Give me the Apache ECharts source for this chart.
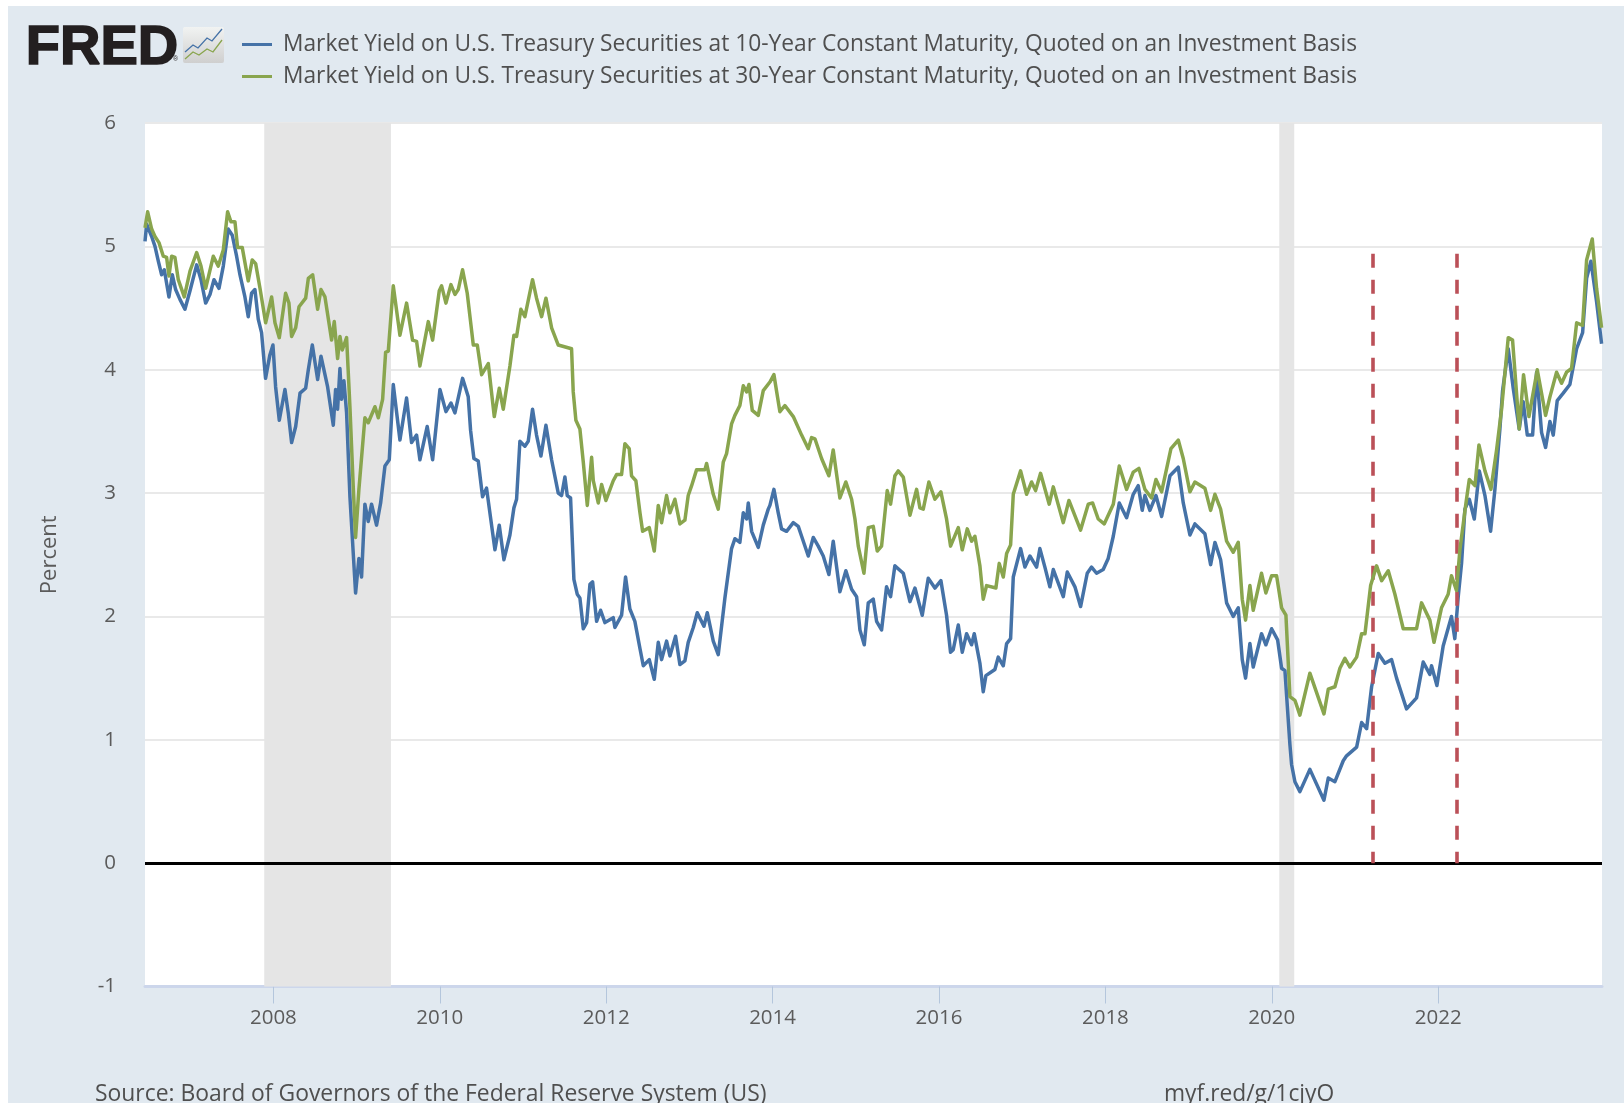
<!DOCTYPE html>
<html><head><meta charset="utf-8"><title>FRED</title>
<style>html,body{margin:0;padding:0;background:#fff;width:1624px;height:1103px;overflow:hidden}
#bg{position:absolute;left:8px;top:6px;right:0;bottom:0;background:#e1e9f0}
#c{position:absolute;left:0;top:0;width:1624px;height:1103px}</style>
<script src="https://cdn.jsdelivr.net/npm/echarts@6/dist/echarts.min.js"></script></head>
<body><div id="bg"></div><div id="c"></div><script>
const years10=[2006.457,2006.477,2006.537,2006.577,2006.617,2006.657,2006.689,2006.745,2006.785,2006.825,2006.877,2006.937,2006.998,2007.078,2007.130,2007.186,2007.238,2007.286,2007.346,2007.398,2007.458,2007.506,2007.558,2007.598,2007.658,2007.698,2007.738,2007.778,2007.818,2007.858,2007.906,2007.958,2007.995,2008.027,2008.071,2008.139,2008.179,2008.219,2008.268,2008.320,2008.388,2008.420,2008.468,2008.532,2008.572,2008.652,2008.720,2008.748,2008.772,2008.800,2008.820,2008.848,2008.880,2008.920,
2008.988,2009.028,2009.060,2009.100,2009.140,2009.180,2009.240,2009.289,2009.341,2009.393,2009.441,2009.521,2009.601,2009.661,2009.721,2009.761,2009.849,2009.914,2010.002,2010.074,2010.134,2010.182,2010.274,2010.342,2010.370,2010.410,2010.462,2010.514,2010.562,2010.663,2010.715,2010.771,2010.843,2010.891,2010.923,2010.963,2011.023,2011.063,2011.115,2011.163,2011.216,2011.276,2011.344,2011.424,
2011.464,2011.504,2011.532,2011.572,2011.612,2011.652,2011.684,2011.725,2011.765,2011.805,2011.837,2011.885,2011.933,2011.985,2012.085,2012.105,2012.185,2012.233,2012.285,2012.345,2012.406,2012.446,2012.518,2012.578,2012.626,2012.666,2012.726,2012.766,2012.834,2012.886,2012.946,2012.986,2013.047,2013.095,2013.175,2013.215,2013.287,2013.347,2013.427,2013.507,2013.547,2013.607,2013.648,2013.688,2013.708,2013.748,2013.828,2013.888,2013.948,2013.968,
2014.016,2014.068,2014.108,2014.168,2014.249,2014.309,2014.349,2014.429,2014.489,2014.549,2014.609,2014.677,2014.729,2014.809,2014.881,2014.950,2015.010,2015.050,2015.102,2015.150,2015.210,2015.250,2015.310,2015.370,2015.418,2015.470,2015.571,2015.651,2015.711,2015.799,2015.871,2015.951,2016.023,2016.091,2016.139,2016.171,2016.232,2016.280,2016.332,2016.392,2016.424,2016.492,
2016.532,2016.564,2016.672,2016.712,2016.773,2016.813,2016.861,2016.893,2016.981,2017.033,2017.093,2017.173,2017.213,2017.273,2017.333,2017.374,2017.494,2017.542,2017.634,2017.702,2017.782,2017.834,2017.894,2017.974,2018.034,2018.095,2018.167,2018.255,2018.335,2018.395,2018.443,2018.475,2018.535,2018.608,2018.676,2018.776,2018.876,2018.936,2019.016,
2019.076,2019.196,2019.265,2019.317,2019.385,2019.457,2019.537,2019.597,2019.645,2019.685,2019.737,2019.777,2019.877,2019.929,2019.998,2020.070,2020.118,2020.158,2020.218,2020.238,2020.278,2020.338,2020.458,2020.627,2020.679,2020.759,2020.859,2020.899,2021.020,2021.080,2021.140,2021.200,2021.280,
2021.360,2021.440,2021.500,2021.620,2021.740,2021.820,2021.900,2021.920,2021.985,2022.060,2022.160,2022.200,
2022.241,2022.281,2022.321,2022.374,2022.434,2022.494,2022.562,2022.630,2022.682,2022.742,2022.774,2022.842,2022.902,2022.974,2023.022,2023.071,2023.135,2023.183,2023.243,2023.291,2023.343,2023.383,2023.431,2023.503,2023.583,2023.664,2023.736,2023.784,2023.836,2023.904,2023.964];
const yields10=[5.04,5.18,5.08,5.00,4.88,4.77,4.81,4.59,4.77,4.65,4.57,4.49,4.64,4.85,4.73,4.54,4.61,4.73,4.66,4.84,5.14,5.09,4.92,4.77,4.59,4.43,4.62,4.65,4.41,4.30,3.93,4.12,4.20,3.86,3.59,3.84,3.65,3.41,3.54,3.81,3.85,4.00,4.20,3.92,4.11,3.86,3.55,3.84,3.68,4.01,3.76,3.91,3.65,2.97,
2.19,2.47,2.32,2.91,2.77,2.91,2.74,2.92,3.22,3.27,3.88,3.43,3.77,3.41,3.47,3.27,3.54,3.27,3.84,3.66,3.73,3.65,3.93,3.78,3.51,3.28,3.26,2.97,3.04,2.54,2.74,2.46,2.66,2.88,2.95,3.42,3.38,3.42,3.68,3.47,3.30,3.55,3.27,3.00,
2.98,3.13,2.98,2.96,2.30,2.18,2.15,1.90,1.95,2.26,2.28,1.96,2.05,1.95,1.99,1.91,2.01,2.32,2.06,1.96,1.74,1.60,1.65,1.49,1.79,1.65,1.80,1.68,1.84,1.61,1.64,1.79,1.91,2.03,1.92,2.03,1.80,1.69,2.15,2.55,2.63,2.60,2.84,2.79,2.92,2.69,2.56,2.74,2.87,2.90,
3.03,2.84,2.71,2.69,2.76,2.73,2.65,2.49,2.64,2.57,2.49,2.34,2.61,2.20,2.37,2.22,2.16,1.89,1.77,2.11,2.14,1.96,1.89,2.24,2.16,2.41,2.35,2.12,2.23,2.01,2.31,2.23,2.29,2.01,1.71,1.73,1.93,1.71,1.86,1.77,1.86,1.62,
1.39,1.52,1.57,1.67,1.60,1.78,1.82,2.32,2.55,2.40,2.49,2.40,2.55,2.40,2.24,2.38,2.16,2.36,2.24,2.08,2.35,2.40,2.35,2.38,2.47,2.65,2.92,2.80,2.99,3.06,2.86,2.98,2.86,2.98,2.81,3.14,3.21,2.92,2.66,
2.75,2.67,2.42,2.60,2.46,2.11,2.00,2.07,1.65,1.50,1.78,1.59,1.86,1.77,1.90,1.81,1.58,1.56,0.96,0.80,0.66,0.58,0.76,0.51,0.69,0.66,0.83,0.87,0.94,1.14,1.09,1.43,1.70,
1.62,1.65,1.50,1.25,1.34,1.63,1.53,1.60,1.44,1.76,2.00,1.82,
2.16,2.43,2.87,2.95,2.79,3.18,2.98,2.69,3.03,3.52,3.83,4.17,3.85,3.52,3.74,3.47,3.47,3.98,3.49,3.37,3.58,3.47,3.75,3.81,3.88,4.17,4.30,4.74,4.88,4.55,4.21];
const years30=[2006.457,2006.489,2006.537,2006.577,2006.625,2006.677,2006.717,2006.745,2006.777,2006.817,2006.857,2006.929,2006.998,2007.078,2007.130,2007.186,2007.278,2007.338,2007.398,2007.450,2007.490,2007.538,2007.570,2007.626,2007.698,2007.746,2007.787,2007.839,2007.907,2007.979,2008.019,2008.071,2008.147,2008.187,2008.219,2008.268,2008.308,2008.388,2008.420,2008.472,2008.532,2008.572,2008.620,2008.700,2008.732,2008.772,2008.800,2008.828,2008.880,2008.920,2008.960,
2008.988,2009.028,2009.100,2009.140,2009.221,2009.261,2009.313,2009.349,2009.381,2009.441,2009.521,2009.601,2009.673,2009.721,2009.761,2009.862,2009.914,2009.994,2010.022,2010.074,2010.134,2010.182,2010.222,2010.274,2010.330,2010.370,2010.403,2010.451,2010.503,2010.583,2010.655,2010.715,2010.763,2010.843,2010.891,2010.923,2010.975,2011.023,2011.115,2011.163,2011.224,2011.276,2011.344,2011.424,
2011.584,2011.604,2011.636,2011.684,2011.725,2011.773,2011.825,2011.845,2011.905,2011.945,2011.997,2012.085,2012.125,2012.185,2012.225,2012.277,2012.305,2012.357,2012.406,2012.438,2012.518,2012.578,2012.626,2012.666,2012.726,2012.766,2012.826,2012.886,2012.946,2012.986,2013.027,2013.087,2013.187,2013.207,2013.287,2013.347,2013.407,2013.447,2013.507,2013.547,2013.607,2013.648,2013.688,2013.716,2013.756,2013.828,2013.888,2013.968,
2014.016,2014.088,2014.148,2014.249,2014.349,2014.429,2014.469,2014.509,2014.589,2014.677,2014.729,2014.809,2014.881,2014.950,2014.990,2015.030,2015.098,2015.150,2015.210,2015.258,2015.310,2015.378,2015.418,2015.470,2015.510,2015.571,2015.651,2015.731,2015.771,2015.811,2015.879,2015.951,2016.023,2016.091,2016.139,2016.232,2016.280,2016.340,2016.392,2016.432,2016.492,
2016.532,2016.572,2016.684,2016.724,2016.773,2016.813,2016.861,2016.893,2016.981,2017.053,2017.113,2017.161,2017.221,2017.325,2017.374,2017.494,2017.562,2017.702,2017.794,2017.846,2017.914,2017.986,2018.095,2018.167,2018.255,2018.335,2018.403,2018.475,2018.555,2018.608,2018.676,2018.788,2018.876,2018.936,2019.016,
2019.076,2019.196,2019.265,2019.317,2019.385,2019.457,2019.537,2019.597,2019.645,2019.685,2019.737,2019.777,2019.877,2019.929,2019.998,2020.058,2020.118,2020.170,2020.218,2020.278,2020.338,2020.458,2020.627,2020.679,2020.759,2020.819,2020.879,2020.939,2021.020,2021.080,2021.120,2021.188,2021.260,
2021.320,2021.400,2021.480,2021.580,2021.740,2021.800,2021.900,2021.950,2022.040,2022.120,2022.160,2022.220,
2022.261,2022.334,2022.374,2022.442,2022.490,2022.562,2022.634,2022.702,2022.762,2022.842,2022.894,2022.974,2023.026,2023.091,2023.191,2023.291,2023.343,2023.423,2023.483,2023.543,2023.603,2023.664,2023.736,2023.784,2023.852,2023.904,2023.964];
const yields30=[5.15,5.28,5.14,5.08,5.03,4.92,4.91,4.76,4.92,4.91,4.73,4.59,4.80,4.95,4.84,4.66,4.92,4.84,4.97,5.28,5.20,5.20,4.99,4.99,4.72,4.89,4.86,4.66,4.38,4.59,4.38,4.26,4.62,4.54,4.27,4.34,4.51,4.58,4.74,4.77,4.49,4.65,4.59,4.24,4.39,4.09,4.27,4.16,4.26,3.70,3.05,
2.64,3.03,3.61,3.57,3.70,3.61,3.76,4.14,4.15,4.68,4.28,4.54,4.24,4.23,4.03,4.39,4.24,4.64,4.68,4.54,4.69,4.61,4.65,4.81,4.62,4.39,4.20,4.20,3.96,4.05,3.62,3.85,3.68,4.03,4.28,4.27,4.49,4.43,4.73,4.58,4.43,4.58,4.34,4.20,
4.17,3.82,3.59,3.52,3.25,2.90,3.29,3.10,2.92,3.07,2.94,3.10,3.15,3.15,3.40,3.36,3.14,3.10,2.84,2.69,2.72,2.53,2.90,2.76,2.98,2.84,2.95,2.75,2.78,2.98,3.06,3.19,3.19,3.24,2.99,2.87,3.25,3.32,3.56,3.63,3.71,3.87,3.82,3.88,3.67,3.63,3.83,3.90,
3.96,3.66,3.71,3.62,3.47,3.36,3.45,3.44,3.28,3.14,3.35,2.96,3.09,2.95,2.79,2.57,2.35,2.72,2.73,2.53,2.57,3.02,2.91,3.14,3.18,3.13,2.82,3.03,2.88,2.87,3.09,2.95,3.01,2.79,2.57,2.72,2.54,2.71,2.61,2.65,2.41,
2.14,2.25,2.23,2.43,2.32,2.51,2.58,2.99,3.18,2.99,3.09,3.02,3.16,2.91,3.05,2.76,2.94,2.70,2.91,2.92,2.79,2.75,2.91,3.22,3.03,3.17,3.20,3.03,2.96,3.11,3.01,3.36,3.43,3.28,3.01,
3.09,3.04,2.86,2.99,2.87,2.61,2.52,2.60,2.14,1.97,2.25,2.05,2.35,2.19,2.33,2.33,2.07,2.01,1.35,1.32,1.20,1.54,1.21,1.41,1.43,1.58,1.66,1.59,1.67,1.86,1.86,2.25,2.41,
2.29,2.37,2.18,1.90,1.90,2.11,1.97,1.79,2.07,2.18,2.33,2.21,
2.54,2.92,3.11,3.06,3.39,3.18,3.03,3.35,3.68,4.26,4.24,3.52,3.96,3.62,4.00,3.63,3.78,3.98,3.89,3.98,4.01,4.38,4.36,4.89,5.06,4.66,4.34];
const yearTicks=[2008,2010,2012,2014,2016,2018,2020,2022];
const recessions=[[2007.89,2009.413],[2020.09,2020.27]];
const eventDates=[2021.216,2022.218];
const eventTop=4.94;
const name10='Market Yield on U.S. Treasury Securities at 10-Year Constant Maturity, Quoted on an Investment Basis';
const name30='Market Yield on U.S. Treasury Securities at 30-Year Constant Maturity, Quoted on an Investment Basis';
const sourceText='Source: Board of Governors of the Federal Reserve System (US)';
const linkText='myf.red/g/1cjyO';
const pairs=(xs,ys)=>xs.map((x,i)=>[x,ys[i]]);
const font='"Open Sans"';
const chart=echarts.init(document.getElementById('c'),null,{renderer:'canvas'});
chart.setOption({
 animation:false,backgroundColor:'transparent',
 grid:{left:145,right:22,top:123,height:863.5,show:true,backgroundColor:'#fff',borderWidth:0},
 legend:{orient:'vertical',left:237,top:28,itemWidth:30,itemHeight:3,itemGap:9,icon:'rect',selectedMode:false,
  textStyle:{fontFamily:font,fontSize:22.75,color:'#4f4f4f',padding:[0,0,0,6],height:22,lineHeight:22},
  data:[name10,name30]},
 xAxis:{type:'value',min:2006.457,max:2023.969,splitLine:{show:false},
  axisLine:{onZero:false,lineStyle:{color:'#ccd6eb',width:3}},
  axisTick:{show:true,length:17,customValues:yearTicks,lineStyle:{color:'#b4c6dc',width:1}},
  axisLabel:{customValues:yearTicks,formatter:v=>String(v),margin:21,fontFamily:font,fontSize:20.5,color:'#5b5b5b'}},
 yAxis:{type:'value',min:-1,max:6,interval:1,
  name:'Percent',nameLocation:'middle',nameGap:84,nameRotate:90,nameTextStyle:{fontFamily:font,fontSize:22,color:'#5b5b5b'},
  axisLine:{show:false},axisTick:{show:false},
  axisLabel:{margin:29,fontFamily:font,fontSize:20.5,color:'#5b5b5b'},
  splitLine:{lineStyle:{color:'#e9e9e9',width:2}}},
 series:[
  {name:name10,type:'line',data:pairs(years10,yields10),showSymbol:false,symbol:'none',smooth:false,z:3,color:'#4572a7',
   lineStyle:{color:'#4572a7',width:3.5,join:'round'},
   markArea:{silent:true,z:1,itemStyle:{color:'#e5e5e5'},data:recessions.map(r=>[{xAxis:r[0]},{xAxis:r[1]}])},
   markLine:{silent:true,z:4,symbol:'none',label:{show:false},emphasis:{disabled:true},
    data:[{yAxis:0,lineStyle:{color:'#000',width:3,type:'solid'}}].concat(eventDates.map(d=>[
     {coord:[d,eventTop],lineStyle:{color:'#bb5058',width:3.6,type:[14,12]}},{coord:[d,0]}]))}},
  {name:name30,type:'line',data:pairs(years30,yields30),showSymbol:false,symbol:'none',smooth:false,z:5,color:'#89a54e',
   lineStyle:{color:'#89a54e',width:3.5,join:'round'}}
 ],
 graphic:[
  {type:'text',left:25,top:20,silent:true,style:{text:'FRED',fontFamily:'"Liberation Sans"',fontWeight:'bold',fontSize:56,fill:'#231f20',stroke:'#231f20',lineWidth:1.6}},
  {type:'text',left:173,top:56,silent:true,style:{text:'®',fontFamily:'"Liberation Sans"',fontSize:7,fill:'#231f20'}},
  {type:'rect',silent:true,shape:{x:183,y:27,width:41,height:36,r:2},style:{fill:new echarts.graphic.LinearGradient(0,0,0,1,[{offset:0,color:'#f1f3f2'},{offset:1,color:'#cfcfcf'}])}},
  {type:'polyline',silent:true,shape:{points:[[185,52],[193,45],[198,48],[207,38],[212,41],[222,29]]},style:{stroke:'#4572a7',fill:null,lineWidth:1.3}},
  {type:'polyline',silent:true,shape:{points:[[185,59],[193,52],[199,55],[207,49],[213,52],[222,40]]},style:{stroke:'#89a54e',fill:null,lineWidth:1.3}},
  {type:'text',left:95,top:1083,silent:true,style:{text:sourceText,fontFamily:font,fontSize:22.9,fill:'#4f4f4f'}},
  {type:'text',left:1164,top:1083,silent:true,style:{text:linkText,fontFamily:font,fontSize:22.8,fill:'#4f4f4f'}}
 ]
});
</script></body></html>
